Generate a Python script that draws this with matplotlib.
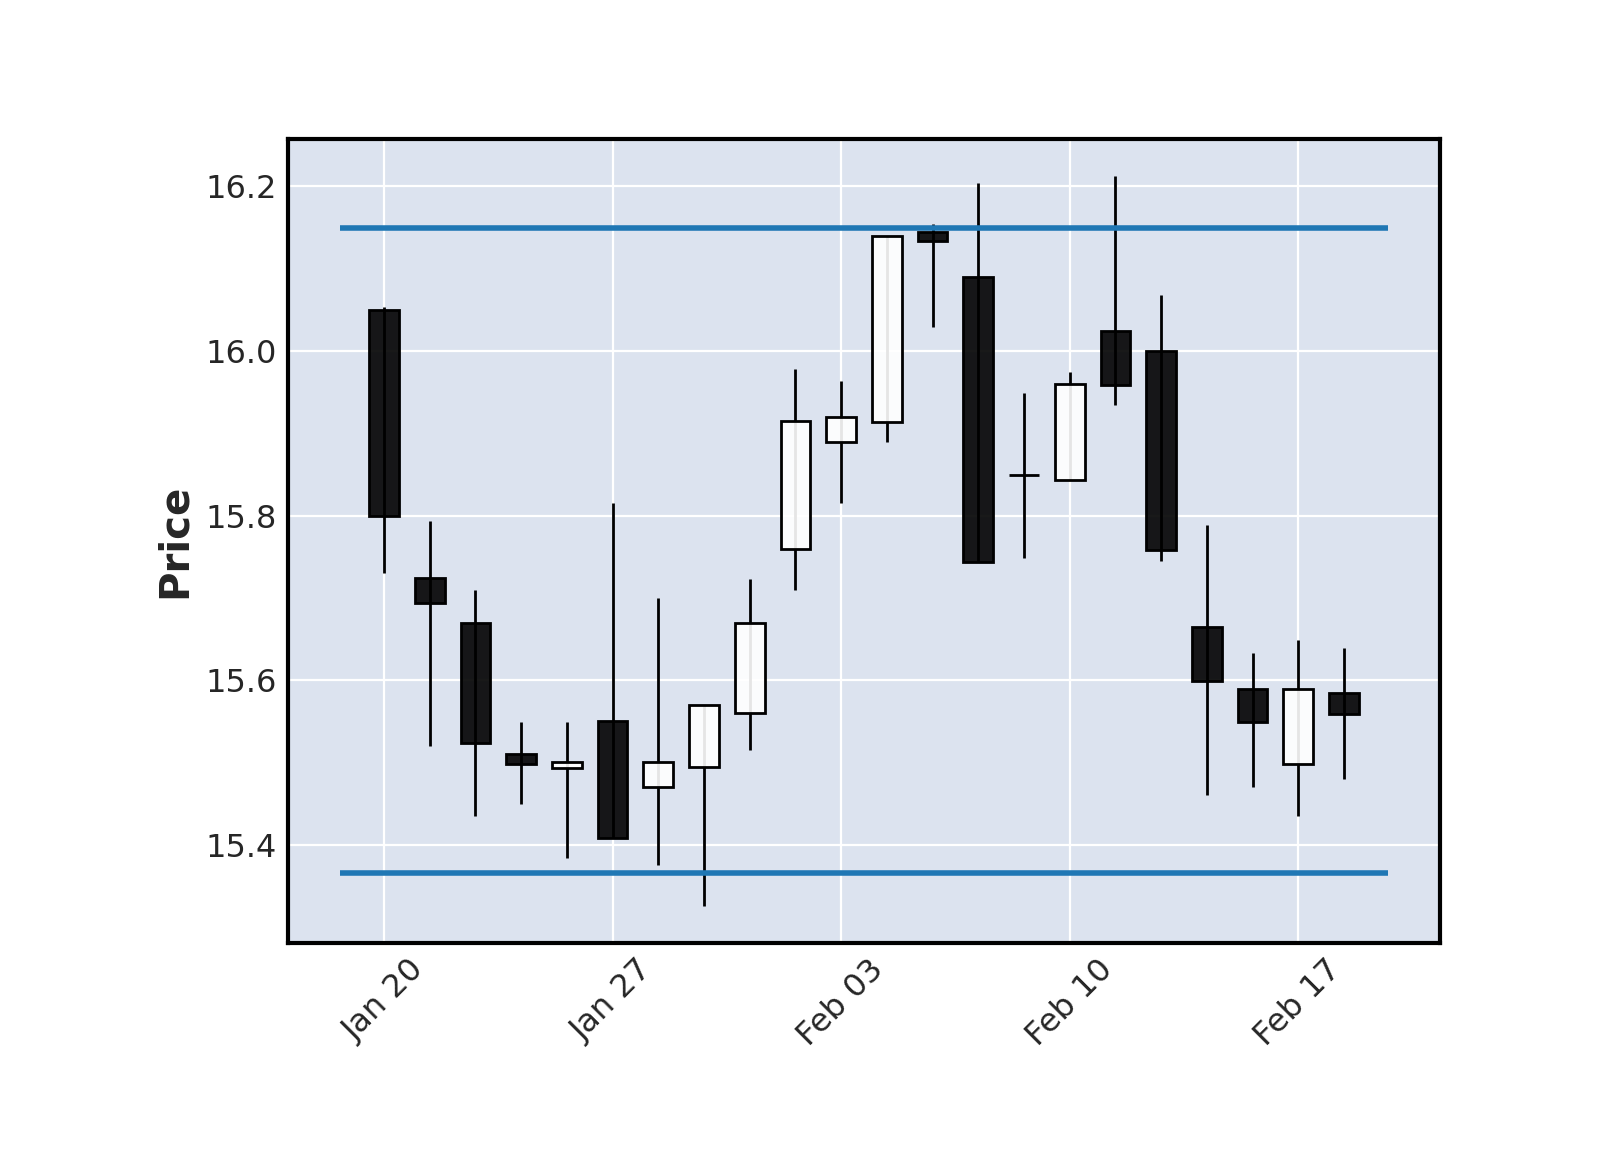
import matplotlib
matplotlib.use("Agg")
import matplotlib.pyplot as plt
from matplotlib.ticker import MultipleLocator, FixedLocator, FixedFormatter
import numpy as np
import pandas as pd

# ---- data ----
dates = ["2025-01-20", "2025-01-21", "2025-01-22", "2025-01-23", "2025-01-24",
         "2025-01-27", "2025-01-28", "2025-01-29", "2025-01-30", "2025-01-31",
         "2025-02-03", "2025-02-04", "2025-02-05", "2025-02-06", "2025-02-07",
         "2025-02-10", "2025-02-11", "2025-02-12", "2025-02-13", "2025-02-14",
         "2025-02-17", "2025-02-18"]
opens = [16.050, 15.724, 15.669, 15.510, 15.493, 15.550, 15.470, 15.494, 15.560, 15.759,
         15.889, 15.914, 16.144, 16.090, 15.849, 15.843, 16.024, 16.000, 15.664, 15.589,
         15.498, 15.584]
highs = [16.054, 15.794, 15.709, 15.549, 15.549, 15.815, 15.700, 15.570, 15.723, 15.978,
         15.964, 16.140, 16.154, 16.204, 15.949, 15.974, 16.213, 16.068, 15.789, 15.633,
         15.649, 15.639]
lows = [15.730, 15.520, 15.435, 15.449, 15.384, 15.408, 15.375, 15.325, 15.515, 15.710,
        15.815, 15.889, 16.029, 15.744, 15.749, 15.843, 15.934, 15.745, 15.460, 15.470,
        15.435, 15.480]
closes = [15.799, 15.694, 15.524, 15.498, 15.500, 15.408, 15.500, 15.570, 15.669, 15.915,
          15.920, 16.140, 16.134, 15.744, 15.849, 15.960, 15.959, 15.758, 15.599, 15.549,
          15.589, 15.559]
hline_levels = [16.149, 15.366]
tick_step = 5
ylabel = "Price"

# ---- styling ----
face = "#DCE3EF"
up_fill = (1, 1, 1, 0.9)
down_fill = (0, 0, 0, 0.9)
text_col = "#262626"

df = pd.DataFrame({"Open": opens, "High": highs, "Low": lows, "Close": closes},
                  index=pd.to_datetime(dates))
x = np.arange(len(df))

fig = plt.figure(figsize=(8, 5.75), dpi=200)
ax = fig.add_axes([0.18, 0.18, 0.72, 0.699])
ax.set_facecolor(face)
ax.set_axisbelow(True)
ax.grid(True, color="white", linewidth=0.8)

# wicks
ax.vlines(x, df["Low"], df["High"], colors="black", linewidth=1.0, zorder=2)
# bodies
is_up = df["Close"] >= df["Open"]
fills = [up_fill if u else down_fill for u in is_up]
ax.bar(x, df["Close"] - df["Open"], bottom=df["Open"], width=0.65,
       color=fills, edgecolor="black", linewidth=1.0, zorder=3)

# horizontal lines spanning the data range
pad = (x[-1] - x[0]) / len(x)
ax.hlines(hline_levels, x[0] - pad, x[-1] + pad, colors="#1f77b4",
          linewidth=2.0, zorder=4)

ax.margins(0.05)

# ticks
tick_pos = x[::tick_step]
ax.xaxis.set_major_locator(FixedLocator(tick_pos))
ax.xaxis.set_major_formatter(FixedFormatter(df.index[::tick_step].strftime("%b %d")))
ax.yaxis.set_major_locator(MultipleLocator(0.2))
ax.yaxis.set_major_formatter(matplotlib.ticker.FormatStrFormatter("%.1f"))
ax.tick_params(axis="both", length=0, pad=4, labelsize=11.5, colors=text_col)
for lab in ax.get_xticklabels():
    lab.set_rotation(45)

ax.set_ylabel(ylabel, fontsize=14.5, fontweight="bold", color=text_col)

for s in ax.spines.values():
    s.set_color("black")
    s.set_linewidth(1.5)

fig.savefig("out.png", dpi=200, facecolor="white")
